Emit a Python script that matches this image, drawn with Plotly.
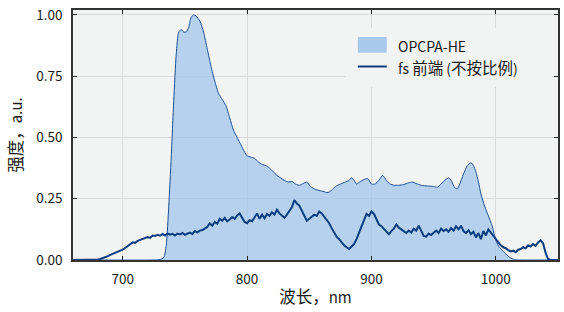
import plotly.graph_objects as go

# ---- data ----
opcpa_wl = [660, 725, 730, 733, 735, 737, 739, 741, 743, 745, 747, 749, 751, 753, 755, 757, 759,
            762, 765, 768, 771, 774, 777, 780, 783, 786, 789, 792, 795, 798, 800, 803, 806, 809,
            812, 815, 818, 821, 824, 827, 830, 833, 836, 839, 842, 845, 848, 851, 854, 857, 861,
            865, 868, 871, 875, 879, 882, 884, 886, 888, 891, 894, 897, 900, 903, 906, 909, 912,
            915, 918, 922, 926, 930, 933, 936, 940, 945, 950, 953, 956, 960, 962, 964, 967, 969,
            971, 974, 977, 980, 982, 984, 986, 988, 991, 994, 997, 1000, 1003, 1006, 1009, 1012,
            1015, 1018, 1050]
opcpa_val = [0, 0, 0.002, 0.01, 0.06, 0.22, 0.42, 0.65, 0.84, 0.93, 0.94, 0.93, 0.93, 0.95, 0.99, 1.0, 0.995,
             0.975, 0.93, 0.86, 0.79, 0.73, 0.68, 0.655, 0.63, 0.58, 0.53, 0.50, 0.47, 0.44, 0.425, 0.42, 0.415, 0.40,
             0.39, 0.385, 0.375, 0.36, 0.345, 0.335, 0.325, 0.318, 0.32, 0.31, 0.305, 0.312, 0.318, 0.30, 0.29, 0.285, 0.28,
             0.275, 0.285, 0.30, 0.31, 0.318, 0.325, 0.335, 0.325, 0.31, 0.32, 0.328, 0.332, 0.31, 0.31, 0.325, 0.345, 0.325,
             0.31, 0.305, 0.305, 0.308, 0.315, 0.318, 0.312, 0.305, 0.302, 0.30, 0.297, 0.31, 0.33, 0.335, 0.325, 0.295, 0.29,
             0.31, 0.35, 0.385, 0.397, 0.385, 0.36, 0.32, 0.27, 0.22, 0.18, 0.14, 0.08, 0.05, 0.035, 0.02, 0.008,
             0.001, 0, 0]

fs_start, fs_step = 660, 2
fs_val = [
    0, 0, 0, 0, 0, 0, 0, 0, 0, 0,                                                  # 660-678
    0.002, 0.004, 0.007, 0.011, 0.016, 0.021, 0.026, 0.030, 0.034, 0.038,          # 680-698
    0.042, 0.050, 0.058, 0.066, 0.072, 0.070, 0.078, 0.082, 0.085, 0.090,          # 700-718
    0.094, 0.090, 0.100, 0.098, 0.103, 0.099, 0.106, 0.100, 0.108, 0.103,          # 720-738
    0.107, 0.100, 0.108, 0.104, 0.110, 0.103, 0.108, 0.112, 0.106, 0.118,          # 740-758
    0.113, 0.120, 0.122, 0.128, 0.135, 0.150, 0.140, 0.155, 0.148, 0.168,          # 760-778
    0.160, 0.172, 0.158, 0.165, 0.175, 0.168, 0.182, 0.190, 0.172, 0.155,          # 780-798
    0.150, 0.162, 0.158, 0.172, 0.190, 0.168, 0.185, 0.170, 0.188, 0.180,          # 800-818
    0.195, 0.185, 0.205, 0.190, 0.180, 0.172, 0.185, 0.200, 0.215, 0.245,          # 820-838
    0.230, 0.222, 0.200, 0.175, 0.160, 0.168, 0.178, 0.185, 0.180, 0.198,          # 840-858
    0.190, 0.178, 0.165, 0.150, 0.130, 0.110, 0.095, 0.085, 0.072, 0.060,          # 860-878
    0.052, 0.045, 0.055, 0.065, 0.085, 0.110, 0.135, 0.160, 0.188, 0.180,          # 880-898
    0.198, 0.188, 0.165, 0.145, 0.138, 0.128, 0.118, 0.105, 0.118, 0.128,          # 900-918
    0.145, 0.132, 0.125, 0.118, 0.110, 0.120, 0.112, 0.128, 0.120, 0.140,          # 920-938
    0.115, 0.098, 0.095, 0.108, 0.102, 0.112, 0.120, 0.110, 0.128, 0.118,          # 940-958
    0.125, 0.115, 0.130, 0.120, 0.138, 0.125, 0.140, 0.118, 0.110, 0.122,          # 960-978
    0.105, 0.115, 0.092, 0.110, 0.085, 0.118, 0.100, 0.125, 0.112, 0.095,          # 980-998
    0.082, 0.070, 0.060, 0.052, 0.048, 0.040, 0.035, 0.038, 0.032, 0.042,          # 1000-1018
    0.045, 0.052, 0.048, 0.060, 0.055, 0.065, 0.058, 0.072, 0.080, 0.068,          # 1020-1038
    0.030, 0.004, 0, 0, 0, 0,                                                      # 1040-1050
]
fs_wl = [fs_start + fs_step * i for i in range(len(fs_val))]

x_ticks = [700, 800, 900, 1000]
y_ticks = [0.0, 0.25, 0.5, 0.75, 1.0]
y_tick_text = ["0.00", "0.25", "0.50", "0.75", "1.00"]
legend_labels = ["OPCPA-HE", "fs 前端 (不按比例)"]
x_title = "波长，nm"
y_title = "强度，a.u."

FILL = "rgba(160,198,236,0.75)"
LINE = "#0b3d7e"
FONT = "Noto Sans CJK SC, Noto Sans, sans-serif"


def cjk_big(text, size):
    """Wrap runs of CJK characters in a larger-size span (the reference renders CJK glyphs wider)."""
    out, buf = [], ""
    for ch in text:
        if ord(ch) > 0x2E80:
            buf += ch
        else:
            if buf:
                out.append(f"<span style='font-size:{size}px'>{buf}</span>")
                buf = ""
            out.append(ch)
    if buf:
        out.append(f"<span style='font-size:{size}px'>{buf}</span>")
    return "".join(out)


fig = go.Figure()
fig.add_trace(go.Scatter(x=opcpa_wl, y=opcpa_val, mode="lines", fill="tozeroy",
                         fillcolor=FILL, line=dict(color="#1f4f8f", width=1, shape="spline", smoothing=0.6),
                         name=legend_labels[0], showlegend=False))
fig.add_trace(go.Scatter(x=fs_wl, y=fs_val, mode="lines",
                         line=dict(color=LINE, width=2), name=legend_labels[1], showlegend=False))

# manual legend (paper coords)
def px2x(p):
    return (p - 73) / 487
def px2y(p):
    return (260 - p) / 250

shapes = [
    dict(type="rect", xref="paper", yref="paper", x0=px2x(347), x1=px2x(554), y0=px2y(87), y1=px2y(28),
         fillcolor="#f2f3f3", line=dict(width=0), layer="above"),
    dict(type="rect", xref="paper", yref="paper", x0=px2x(359), x1=px2x(388), y0=px2y(52.7), y1=px2y(37),
         fillcolor="#a6c9ec", line=dict(width=0), layer="above"),
    dict(type="line", xref="paper", yref="paper", x0=px2x(359), x1=px2x(388), y0=px2y(66.5), y1=px2y(66.5),
         line=dict(color=LINE, width=2), layer="above"),
]
annotations = [
    dict(xref="paper", yref="paper", x=px2x(397), y=px2y(45.5), text=legend_labels[0], showarrow=False,
         xanchor="left", yanchor="middle", font=dict(size=14, color="#1a1a1a", family=FONT)),
    dict(xref="paper", yref="paper", x=px2x(397), y=px2y(67), text=cjk_big(legend_labels[1], 15.5), showarrow=False,
         xanchor="left", yanchor="middle", font=dict(size=14, color="#1a1a1a", family=FONT)),
]

fig.update_layout(
    width=564, height=312,
    margin=dict(l=73, r=4, t=10, b=52),
    paper_bgcolor="white", plot_bgcolor="#f2f3f3",
    font=dict(family=FONT, size=13, color="#1a1a1a"),
    shapes=shapes, annotations=annotations, showlegend=False,
)
fig.update_xaxes(range=[660, 1050], tickvals=x_ticks, ticks="inside", ticklen=4, tickcolor="#222",
                 showline=True, linecolor="#333", linewidth=1.5, mirror="ticks",
                 showgrid=True, gridcolor="#dcdcdc", gridwidth=1.2, zeroline=False,
                 ticklabelstandoff=6, tickfont=dict(size=13.5),
                 title=dict(text=cjk_big(x_title, 16.5), font=dict(size=15), standoff=6))
fig.update_yaxes(range=[0, 1.02], tickvals=y_ticks, ticktext=y_tick_text, ticks="inside", ticklen=4, tickcolor="#222",
                 showline=True, linecolor="#333", linewidth=1.5, mirror="ticks",
                 showgrid=True, gridcolor="#dcdcdc", gridwidth=1.2, zeroline=False,
                 ticklabelstandoff=6, tickfont=dict(size=13.5),
                 title=dict(text=cjk_big(y_title, 16.5), font=dict(size=15), standoff=10))

fig.write_html("out.html", config={"displayModeBar": False},
               post_script="document.body.style.margin='0';document.body.style.overflow='hidden';")
